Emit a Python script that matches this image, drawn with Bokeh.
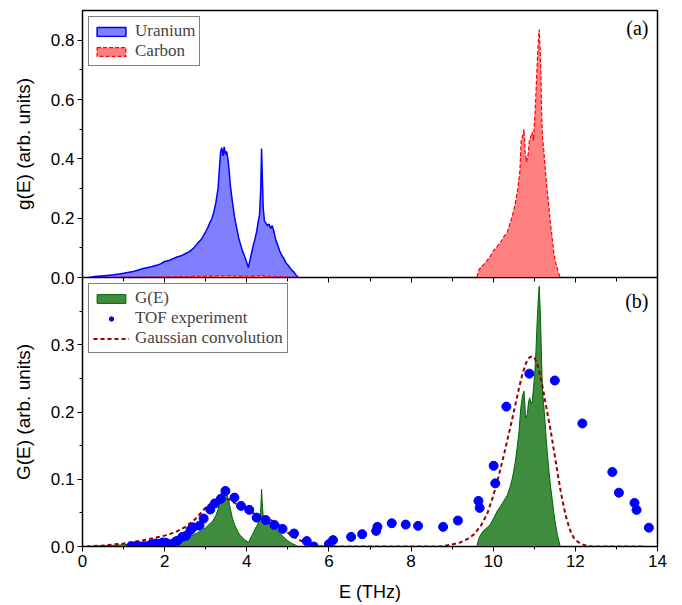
from bokeh.plotting import figure
from bokeh.layouts import column
from bokeh.models import (Range1d, FixedTicker, LinearAxis, Legend, LegendItem, Label,
                          PrintfTickFormatter, CustomLabelingPolicy)
from bokeh.embed import file_html
from bokeh.resources import INLINE

# ---------------- data ----------------
# Panel (a): partial densities of states g(E)
u_E = [0.15, 0.3, 0.45, 0.6, 0.75, 0.9, 1.0, 1.1, 1.2, 1.3, 1.4, 1.5, 1.6, 1.7, 1.8, 1.9,
       2.0, 2.1, 2.2, 2.3, 2.4, 2.5, 2.6, 2.7, 2.8, 2.9, 3.0, 3.05, 3.1, 3.15, 3.2, 3.25,
       3.3, 3.33, 3.36, 3.39, 3.42, 3.45, 3.48, 3.51, 3.54, 3.57, 3.6, 3.65, 3.7, 3.75,
       3.8, 3.85, 3.9, 3.95, 4.0, 4.04, 4.08, 4.12, 4.16, 4.2, 4.24, 4.28, 4.31, 4.34,
       4.36, 4.38, 4.40, 4.43, 4.46, 4.5, 4.54, 4.58, 4.62, 4.66, 4.7, 4.75, 4.8, 4.85,
       4.9, 4.95, 5.0, 5.05, 5.1, 5.15, 5.2, 5.25]
u_g = [0.0, 0.003, 0.005, 0.007, 0.009, 0.012, 0.014, 0.017, 0.019, 0.023, 0.027, 0.031,
       0.034, 0.037, 0.041, 0.046, 0.054, 0.057, 0.063, 0.069, 0.073, 0.080, 0.087, 0.098,
       0.115, 0.130, 0.155, 0.168, 0.185, 0.198, 0.222, 0.255, 0.300, 0.360, 0.420, 0.438,
       0.410, 0.440, 0.415, 0.425, 0.400, 0.360, 0.310, 0.255, 0.205, 0.170, 0.135, 0.110,
       0.088, 0.070, 0.050, 0.033, 0.060, 0.085, 0.110, 0.130, 0.155, 0.190, 0.210, 0.300,
       0.435, 0.330, 0.235, 0.190, 0.185, 0.175, 0.180, 0.165, 0.175, 0.155, 0.130, 0.110,
       0.090, 0.075, 0.065, 0.050, 0.042, 0.033, 0.024, 0.018, 0.008, 0.0]

c_E = [0.3, 1.0, 2.0, 2.5, 3.0, 3.5, 4.0, 4.3, 4.36, 4.42, 5.0, 5.3, 9.6, 9.65, 9.7, 9.78,
       9.85, 9.93, 10.01, 10.1, 10.18, 10.26, 10.34, 10.42, 10.5, 10.55, 10.6, 10.65, 10.68,
       10.72, 10.75, 10.78, 10.81, 10.85, 10.88, 10.92, 10.95, 10.98, 11.02, 11.05, 11.08,
       11.1, 11.12, 11.14, 11.16, 11.18, 11.2, 11.23, 11.26, 11.3, 11.34, 11.39, 11.43,
       11.47, 11.51, 11.55, 11.59, 11.63]
c_g = [0.0, 0.001, 0.002, 0.003, 0.004, 0.006, 0.004, 0.005, 0.011, 0.004, 0.002, 0.0,
       0.0, 0.025, 0.035, 0.045, 0.057, 0.072, 0.091, 0.105, 0.119, 0.138, 0.152, 0.186,
       0.225, 0.260, 0.300, 0.360, 0.460, 0.480, 0.500, 0.420, 0.390, 0.415, 0.460, 0.477,
       0.490, 0.460, 0.560, 0.650, 0.750, 0.800, 0.836, 0.780, 0.690, 0.550, 0.470, 0.430,
       0.380, 0.310, 0.260, 0.185, 0.140, 0.090, 0.055, 0.035, 0.015, 0.0]

# Panel (b): total G(E), TOF experiment, Gaussian convolution
G_E = [0.15, 0.3, 0.45, 0.6, 0.75, 0.9, 1.0, 1.1, 1.2, 1.3, 1.4, 1.5, 1.6, 1.7, 1.8, 1.9,
       2.0, 2.1, 2.2, 2.3, 2.4, 2.5, 2.6, 2.7, 2.8, 2.9, 3.0, 3.05, 3.1, 3.15, 3.2, 3.25,
       3.3, 3.33, 3.36, 3.39, 3.42, 3.45, 3.48, 3.51, 3.54, 3.57, 3.6, 3.65, 3.7, 3.75,
       3.8, 3.85, 3.9, 3.95, 4.0, 4.04, 4.08, 4.12, 4.16, 4.2, 4.24, 4.28, 4.31, 4.34,
       4.36, 4.38, 4.40, 4.43, 4.46, 4.5, 4.54, 4.58, 4.62, 4.66, 4.7, 4.75, 4.8, 4.85,
       4.9, 4.95, 5.0, 5.05, 5.1, 5.15, 5.2, 5.25,
       9.6, 9.65, 9.7, 9.77, 9.85, 9.93, 10.01, 10.1, 10.18, 10.26, 10.34, 10.42, 10.46,
       10.5, 10.54, 10.58, 10.63, 10.67, 10.71, 10.75, 10.79, 10.83, 10.86, 10.89, 10.92,
       10.95, 10.98, 11.01, 11.04, 11.06, 11.09, 11.12, 11.14, 11.16, 11.18, 11.2, 11.23,
       11.26, 11.29, 11.32, 11.36, 11.4, 11.44, 11.48, 11.52, 11.56, 11.6, 11.63]
G_val = [0.0, 0.0005, 0.001, 0.0013, 0.0017, 0.0022, 0.0026, 0.003, 0.0035, 0.0042, 0.0048,
         0.0053, 0.0058, 0.0063, 0.0068, 0.0075, 0.0088, 0.0094, 0.0104, 0.0113, 0.0122,
         0.0136, 0.0150, 0.0172, 0.0205, 0.0235, 0.0280, 0.0310, 0.0340, 0.0360, 0.0410,
         0.0465, 0.0550, 0.0660, 0.0770, 0.0800, 0.0750, 0.0800, 0.0760, 0.0780, 0.0730,
         0.0650, 0.0560, 0.0420, 0.0330, 0.0260, 0.0200, 0.0160, 0.0130, 0.0100, 0.0080,
         0.0060, 0.0110, 0.0160, 0.0200, 0.0260, 0.0300, 0.0350, 0.0390, 0.0550, 0.0850,
         0.0600, 0.0450, 0.0400, 0.0410, 0.0370, 0.0360, 0.0330, 0.0340, 0.0310, 0.0290,
         0.0230, 0.0200, 0.0170, 0.0140, 0.0110, 0.0085, 0.0065, 0.0044, 0.0033, 0.0015, 0.0,
         0.0, 0.012, 0.018, 0.024, 0.028, 0.033, 0.042, 0.053, 0.060, 0.068, 0.076, 0.090,
         0.100, 0.112, 0.127, 0.145, 0.172, 0.205, 0.224, 0.231, 0.191, 0.196, 0.215, 0.221,
         0.212, 0.216, 0.235, 0.256, 0.290, 0.320, 0.360, 0.387, 0.360, 0.320, 0.270, 0.231,
         0.210, 0.187, 0.160, 0.137, 0.110, 0.0875, 0.068, 0.048, 0.032, 0.018, 0.008, 0.0]

tof_E = [1.18, 1.23, 1.30, 1.36, 1.42, 1.50, 1.57, 1.66, 1.70, 1.79, 1.81, 1.95, 2.03, 2.22,
         2.28, 2.31, 2.43, 2.52, 2.63, 2.69, 2.85, 2.95, 3.11, 3.22, 3.37, 3.48, 3.70, 3.86,
         4.06, 4.24, 4.46, 4.67, 4.87, 5.15, 5.46, 5.63, 6.00, 6.10, 6.54, 6.81, 7.15, 7.18,
         7.53, 7.87, 8.17, 8.78, 9.14, 9.64, 9.67, 10.01, 10.05, 10.32, 10.88, 11.50, 12.17,
         12.90, 13.06, 13.44, 13.49, 13.79]
tof_G = [0.0, 0.0, 0.0005, 0.0, 0.0, 0.0005, 0.0, 0.0025, 0.0035, 0.0045, 0.004, 0.006,
         0.0055, 0.005, 0.0075, 0.0085, 0.0143, 0.016, 0.0245, 0.0285, 0.031, 0.0416, 0.055,
         0.064, 0.071, 0.0826, 0.0727, 0.0604, 0.0545, 0.043, 0.0394, 0.0321, 0.0262, 0.0193,
         0.0080, 0.0, 0.0035, 0.0095, 0.0143, 0.0183, 0.0232, 0.0292, 0.0346, 0.0326, 0.0307,
         0.0292, 0.0386, 0.0678, 0.0574, 0.120, 0.0939, 0.208, 0.257, 0.2468, 0.183, 0.1108,
         0.080, 0.0648, 0.0544, 0.028]

gc_E = [0.1, 0.5, 1.0, 1.5, 2.0, 2.25, 2.5, 2.75, 3.0, 3.25, 3.45, 3.6, 3.8, 4.05, 4.3, 4.55,
        4.8, 5.05, 5.3, 5.55, 5.8, 6.1, 8.7, 8.96, 9.2, 9.4, 9.53, 9.7, 9.85, 10.0, 10.1,
        10.22, 10.34, 10.45, 10.54, 10.63, 10.71, 10.8, 10.88, 10.95, 11.02, 11.07, 11.13,
        11.19, 11.25, 11.31, 11.4, 11.48, 11.56, 11.64, 11.72, 11.8, 11.88, 11.96, 12.05,
        12.13, 12.25, 12.4, 13.65]
gc_G = [0.0, 0.0015, 0.0045, 0.0095, 0.0162, 0.021, 0.029, 0.041, 0.058, 0.070, 0.0728,
        0.069, 0.061, 0.053, 0.0455, 0.041, 0.031, 0.018, 0.009, 0.003, 0.0005, 0.0, 0.0,
        0.0025, 0.006, 0.012, 0.018, 0.031, 0.048, 0.075, 0.097, 0.126, 0.157, 0.186, 0.211,
        0.236, 0.256, 0.273, 0.281, 0.283, 0.279, 0.271, 0.258, 0.241, 0.222, 0.201, 0.172,
        0.142, 0.112, 0.083, 0.058, 0.038, 0.023, 0.013, 0.0075, 0.004, 0.0015, 0.0, 0.0]

x_ticks = [0, 2, 4, 6, 8, 10, 12, 14]
x_minor = [1, 3, 5, 7, 9, 11, 13]
ya_ticks = [0.0, 0.2, 0.4, 0.6, 0.8]
ya_minor = [0.1, 0.3, 0.5, 0.7]
yb_ticks = [0.0, 0.1, 0.2, 0.3]
yb_minor = [0.05, 0.15, 0.25, 0.35]

SANS = "Liberation Sans"
SERIF = "Liberation Serif"
OVERLAP = 12   # bottom panel slides up under the top panel's lower border

xr = Range1d(0, 14)


def style_yaxis(ax, label):
    ax.axis_label = label
    ax.axis_label_text_font = SANS
    ax.axis_label_text_font_size = "19px"
    ax.axis_label_text_font_style = "normal"
    ax.axis_label_text_color = "black"
    ax.axis_label_standoff = 14
    ax.formatter = PrintfTickFormatter(format="%.1f")
    ax.major_label_text_font = SANS
    ax.major_label_text_font_size = "17px"
    ax.major_label_text_color = "black"
    ax.major_label_standoff = 3
    ax.major_tick_out = 5
    ax.major_tick_in = 0
    ax.minor_tick_out = 3
    ax.minor_tick_in = 0
    ax.axis_line_color = "black"
    ax.major_tick_line_color = "black"
    ax.minor_tick_line_color = "black"


# ---------------- panel (a) ----------------
top = figure(width=682, height=277 + OVERLAP, x_range=xr, y_range=Range1d(0, 0.9),
             output_backend="svg", toolbar_location=None,
             min_border_left=82, min_border_right=25, min_border_top=10,
             min_border_bottom=OVERLAP)
top.xaxis.visible = False
top.grid.visible = False
top.outline_line_color = "black"
top.outline_line_width = 1.5
top.yaxis.ticker = FixedTicker(ticks=ya_ticks, minor_ticks=ya_minor)
style_yaxis(top.yaxis[0], "g(E) (arb. units)")

u_r = top.patch(u_E, u_g, fill_color="#8080ff", fill_alpha=1.0,
                line_color="blue", line_width=1.5)
c_r = top.patch(c_E, c_g, fill_color="#ff8080", fill_alpha=1.0,
                line_color="red", line_width=1.2, line_dash="4 2")

leg_a = Legend(items=[LegendItem(label="Uranium", renderers=[u_r]),
                      LegendItem(label="Carbon", renderers=[c_r])],
               location="top_left", margin=6, padding=4, spacing=0,
               glyph_width=36, glyph_height=11, label_standoff=6,
               label_text_font=SERIF, label_text_font_size="17px",
               border_line_color="black", border_line_width=1,
               background_fill_alpha=1.0)
top.add_layout(leg_a)
top.add_layout(Label(x=13.78, y=0.878, text="(a)", text_align="right", text_baseline="top",
                     text_font=SERIF, text_font_size="20px", text_color="black"))

# ---------------- panel (b) ----------------
bot = figure(width=682, height=328, x_range=xr, y_range=Range1d(0, 0.4),
             output_backend="svg", toolbar_location=None,
             min_border_left=82, min_border_right=25, min_border_top=0, min_border_bottom=59,
             margin=(-OVERLAP, 0, 0, 0))
bot.border_fill_alpha = 0.0
bot.grid.visible = False
bot.outline_line_color = "black"
bot.outline_line_width = 1.5
bot.yaxis.ticker = FixedTicker(ticks=yb_ticks, minor_ticks=yb_minor)
style_yaxis(bot.yaxis[0], "G(E) (arb. units)")

xa = bot.xaxis[0]
xa.ticker = FixedTicker(ticks=x_ticks, minor_ticks=x_minor)
xa.axis_label = "E (THz)"
xa.axis_label_text_font = SANS
xa.axis_label_text_font_size = "18px"
xa.axis_label_text_font_style = "normal"
xa.axis_label_text_color = "black"
xa.axis_label_standoff = 12
xa.major_label_text_font = SANS
xa.major_label_text_font_size = "17px"
xa.major_label_text_color = "black"
xa.major_label_standoff = 3
xa.major_tick_out = 5
xa.major_tick_in = 0
xa.minor_tick_out = 3
xa.minor_tick_in = 0

# ticks hanging from the shared boundary between the panels (no labels)
no_labels = CustomLabelingPolicy(code="""
for (const i of Array.from(indices)) { indices.unset(i) }
return indices
""")
ax_top = LinearAxis(ticker=FixedTicker(ticks=x_ticks, minor_ticks=x_minor),
                    major_label_policy=no_labels, major_label_standoff=0,
                    major_tick_in=5, major_tick_out=0, minor_tick_in=4, minor_tick_out=0,
                    axis_line_color=None, fixed_location=0.4)
bot.add_layout(ax_top, "above")

g_r = bot.patch(G_E, G_val, fill_color="#3f8c3f", fill_alpha=1.0,
                line_color="#006400", line_width=1)
gc_r = bot.line(gc_E, gc_G, line_color="#990000", line_width=2, line_dash="4 3")
t_r = bot.scatter(tof_E, tof_G, size=9, fill_color="blue", line_color="blue")

leg_b = Legend(items=[LegendItem(label="G(E)", renderers=[g_r]),
                      LegendItem(label="TOF experiment", renderers=[t_r]),
                      LegendItem(label="Gaussian convolution", renderers=[gc_r])],
               location="top_left", margin=6, padding=4, spacing=0,
               glyph_width=36, glyph_height=11, label_standoff=6,
               label_text_font=SERIF, label_text_font_size="17px",
               border_line_color="black", border_line_width=1,
               background_fill_alpha=1.0)
bot.add_layout(leg_b)
bot.add_layout(Label(x=13.78, y=0.382, text="(b)", text_align="right", text_baseline="top",
                     text_font=SERIF, text_font_size="20px", text_color="black"))

layout = column(top, bot, spacing=0)
open("out.html", "w").write(file_html(layout, INLINE))
